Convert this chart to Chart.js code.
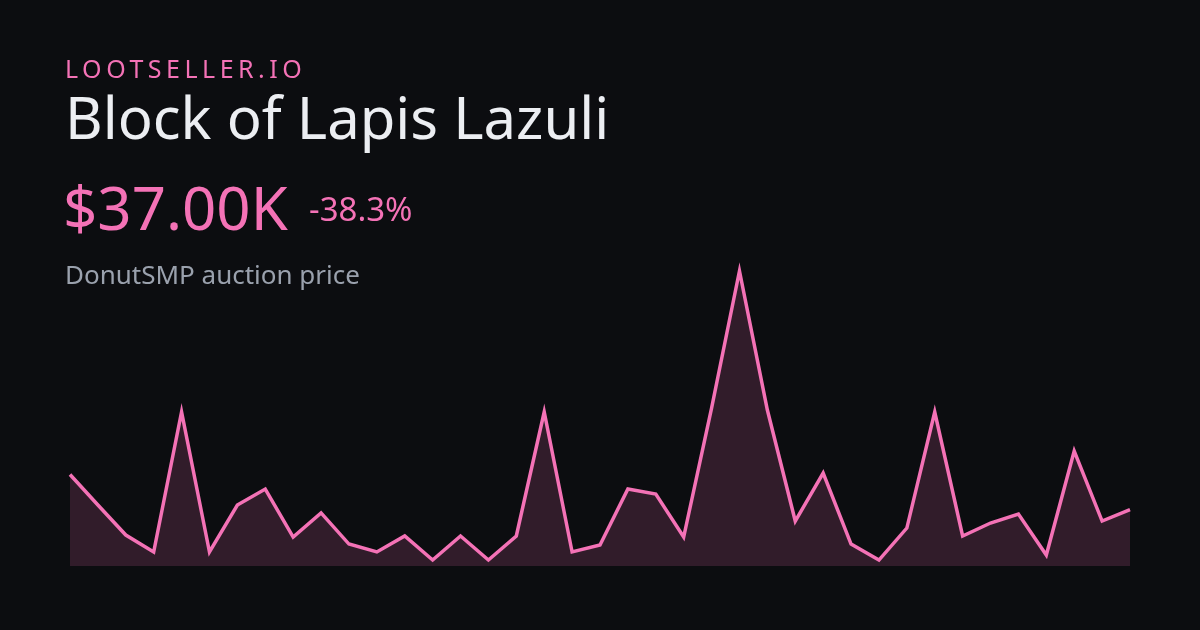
<!DOCTYPE html>
<html>
<head>
<meta charset="utf-8">
<script src="https://cdn.jsdelivr.net/npm/chart.js@4/dist/chart.umd.min.js"></script>
<style>
  html, body { margin: 0; padding: 0; background: #0c0d10; }
  body { width: 1200px; height: 630px; position: relative; overflow: hidden; font-family: "Noto Sans", "Open Sans", sans-serif; }
  #c { position: absolute; left: 0; top: 0; }
  .t { position: absolute; white-space: nowrap; line-height: 1; }
  #brand { left: 65px; top: 55.5px; font-size: 25px; letter-spacing: 0.18em; color: #f472b6; }
  #title { left: 65px; top: 88px; font-size: 58px; color: #eceef2; }
  #price { left: 63px; top: 177px; font-size: 60px; color: #f472b6; }
  #change { left: 309px; top: 192px; font-size: 33px; color: #f472b6; }
  #sub { left: 65px; top: 261px; font-size: 26px; color: #9aa1ad; }
</style>
</head>
<body>
<canvas id="c" width="1200" height="630"></canvas>
<div class="t" id="brand">LOOTSELLER.IO</div>
<div class="t" id="title">Block of Lapis Lazuli</div>
<div class="t" id="price">$37.00K</div>
<div class="t" id="change">-38.3%</div>
<div class="t" id="sub">DonutSMP auction price</div>
<script>
// Price history (thousands of $)
const days = Array.from({length: 39}, (_, i) => "D" + (i + 1));
const prices = [
  60, 40, 20.3, 9.2, 101, 9.2, 40, 50.5, 19, 34.8,
  14.4, 9.2, 19.7, 3.9, 19.7, 3.9, 19.7, 101, 9.2, 13.8,
  50.5, 47.2, 19, 103.6, 193.5, 102.3, 29.5, 61, 14.4, 3.9,
  24.9, 101, 19.7, 28.2, 34.1, 7.2, 75.4, 29.5, 37
];

new Chart(document.getElementById('c'), {
  type: 'line',
  data: {
    labels: days,
    datasets: [{
      data: prices,
      borderColor: '#f472b6',
      borderWidth: 3.5,
      backgroundColor: 'rgba(244,114,182,0.16)',
      fill: 'origin',
      tension: 0,
      pointRadius: 0,
      clip: false
    }]
  },
  options: {
    responsive: false,
    animation: false,
    layout: { padding: { left: 70, right: 70, top: 271, bottom: 64 } },
    plugins: { legend: { display: false }, tooltip: { enabled: false } },
    scales: {
      x: { display: false, offset: false },
      y: { display: false, min: 0, max: Math.max(...prices) }
    }
  }
});
</script>
</body>
</html>
